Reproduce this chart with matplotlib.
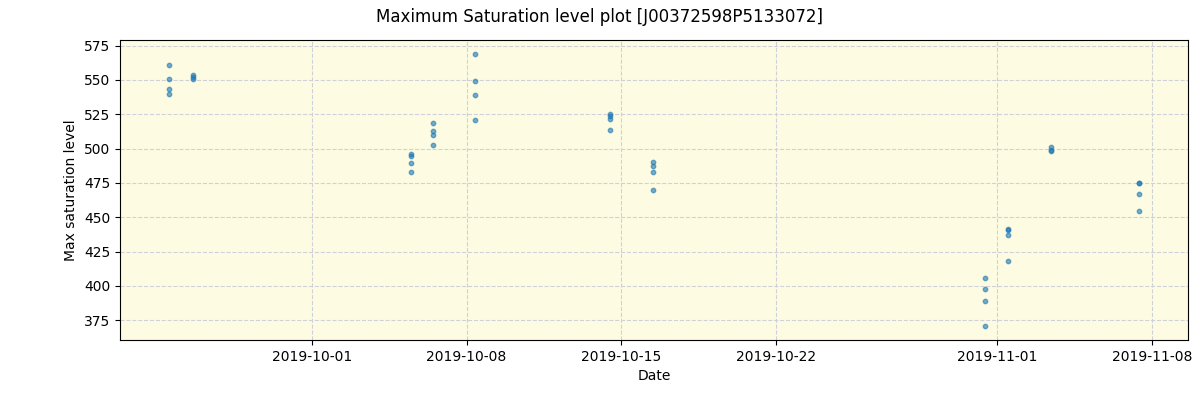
import matplotlib
matplotlib.use("Agg")
import matplotlib.pyplot as plt
import matplotlib.dates as mdates
import pandas as pd

# observation times (one per point) and max saturation level
dates = (
    ["2019-09-24 12:45"] * 4
    + ["2019-09-25 14:45"] * 3
    + ["2019-10-05 11:45"] * 4
    + ["2019-10-06 12:00"] * 4
    + ["2019-10-08 09:00"] * 4
    + ["2019-10-14 11:30"] * 4
    + ["2019-10-16 10:00"] * 4
    + ["2019-10-31 10:30"] * 4
    + ["2019-11-01 11:00"] * 4
    + ["2019-11-03 10:00"] * 3
    + ["2019-11-07 10:00"] * 4
)
levels = [
    561.1, 550.9, 543.6, 540.0,
    553.4, 552.0, 550.4,
    496.2, 494.7, 489.6, 483.1,
    518.8, 512.5, 510.1, 502.7,
    569.1, 549.5, 539.3, 521.0,
    525.4, 523.4, 521.7, 513.7,
    490.3, 487.4, 483.1, 470.1,
    405.6, 397.6, 388.9, 370.6,
    441.8, 440.9, 437.0, 418.1,
    501.2, 498.6, 498.0,
    475.3, 474.6, 467.0, 454.6,
]

x = pd.to_datetime(dates)

fig = plt.figure(figsize=(12, 4), dpi=100)
ax = fig.add_axes([0.1, 0.15, 0.89, 0.75])
ax.set_facecolor("#fdfce2")
ax.scatter(x, levels, s=10, color="tab:blue", alpha=0.6)

ax.grid(True, linestyle="--", color="#d0d0d8", linewidth=0.8)
ax.set_axisbelow(True)
ax.xaxis.set_major_locator(mdates.DayLocator(bymonthday=[1, 8, 15, 22]))
ax.xaxis.set_major_formatter(mdates.DateFormatter("%Y-%m-%d"))
ax.set_xlabel("Date")
ax.set_ylabel("Max saturation level")
fig.suptitle("Maximum Saturation level plot [J00372598P5133072]", y=0.98)

fig.savefig("out.png", dpi=100)
